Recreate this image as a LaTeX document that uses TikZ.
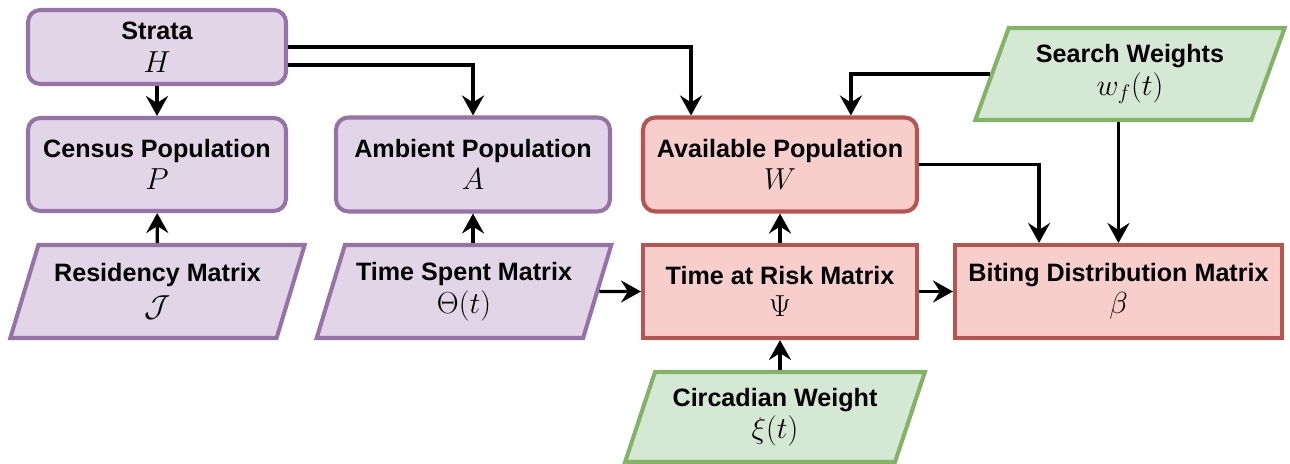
\documentclass[tikz,border=0pt]{standalone}
\usepackage{fontspec}
\setmainfont{Liberation Sans}
\usetikzlibrary{positioning,arrows.meta,calc,shapes.geometric}

\definecolor{purpfill}{HTML}{E1D5E7}
\definecolor{purpline}{HTML}{9673A6}
\definecolor{redfill}{HTML}{F8CECC}
\definecolor{redline}{HTML}{B85450}
\definecolor{greenfill}{HTML}{D5E8D4}
\definecolor{greenline}{HTML}{82B366}

\newcommand{\mathlbl}[1]{{\fontsize{16.5}{18.5}\selectfont$#1$}}

\begin{document}
\begin{tikzpicture}[
      font=\fontsize{14.3}{18.5}\selectfont\bfseries,
      box/.style={draw, line width=2.3pt, minimum width=5.48cm, minimum height=1.86cm, align=center, inner sep=2pt},
      store/.style={box, rounded corners=7pt, fill=purpfill, draw=purpline},
      input/.style={box, trapezium, trapezium left angle=68, trapezium right angle=112, trapezium stretches=true, rounded corners=0pt, minimum width=5.9cm},
      datain/.style={input, fill=purpfill, draw=purpline},
      weight/.style={input, fill=greenfill, draw=greenline},
      risky/.style={box, fill=redfill, draw=redline},
      arr/.style={line width=1.9pt, -{Stealth[length=4mm, width=4.4mm, inset=1.4mm]}}]
    \useasboundingbox (0,0) rectangle (25.8,-9.28);
    \node[store, minimum width=5.16cm, minimum height=1.48cm] (strata) at (3.14,-0.94) {Strata\\\mathlbl{H}};
    \node[store, minimum width=5.16cm] (census) at (3.14,-3.29) {Census Population\\\mathlbl{P}};
    \node[store, minimum height=1.88cm] (ambient) at (9.46,-3.29) {Ambient Population\\\mathlbl{A}};
    \node[risky, rounded corners=7pt, minimum height=1.88cm] (avail) at (15.6,-3.29) {Available Population\\\mathlbl{W}};
    \node[datain] (residency) at (3.15,-5.83) {Residency Matrix\\[1pt]\mathlbl{\mathcal{J}}};
    \node[datain] (timespent) at (9.28,-5.83) {Time Spent Matrix\\\mathlbl{\Theta(t)}};
    \node[risky] (risk) at (15.6,-5.83) {Time at Risk Matrix\\\mathlbl{\Psi}};
    \node[risky, minimum width=6.54cm] (biting) at (22.37,-5.83) {Biting Distribution Matrix\\\mathlbl{\beta}};
    \node[weight, minimum width=6.2cm, minimum height=1.84cm] (search) at (22.6,-1.48) {Search Weights\\\mathlbl{w_f(t)}};
    \node[weight, minimum width=6.0cm, minimum height=1.8cm] (circadian) at (15.5,-8.34) {Circadian Weight\\\mathlbl{\xi(t)}};
    % entry points on the tops of the red boxes
    \coordinate (availL) at ($(avail.north west)!0.18!(avail.north east)$);
    \coordinate (availR) at ($(avail.north west)!0.755!(avail.north east)$);
    \coordinate (bitingL) at ($(biting.north west)!0.26!(biting.north east)$);
    \coordinate (strataLow) at ($(strata.east)+(0,-0.36)$);
    \draw[arr] (strata) -- (census);
    \draw[arr] (residency) -- (census);
    \draw[arr] (ambient.south |- timespent.north) -- (ambient);
    \draw[arr] (strata.east) -| (availL);
    \draw[arr] (strataLow) -| (ambient.north);
    \draw[arr] (search.west) -| (availR);
    \draw[arr] (biting.north |- search.south) -- (biting.north);
    \draw[arr] (avail.east) -| (bitingL);
    \draw[arr] (timespent.east) -- (risk.west);
    \draw[arr] (risk) -- (biting);
    \draw[arr] (risk) -- (avail);
    \draw[arr] (risk.south |- circadian.north) -- (risk);
  \end{tikzpicture}
\end{document}
